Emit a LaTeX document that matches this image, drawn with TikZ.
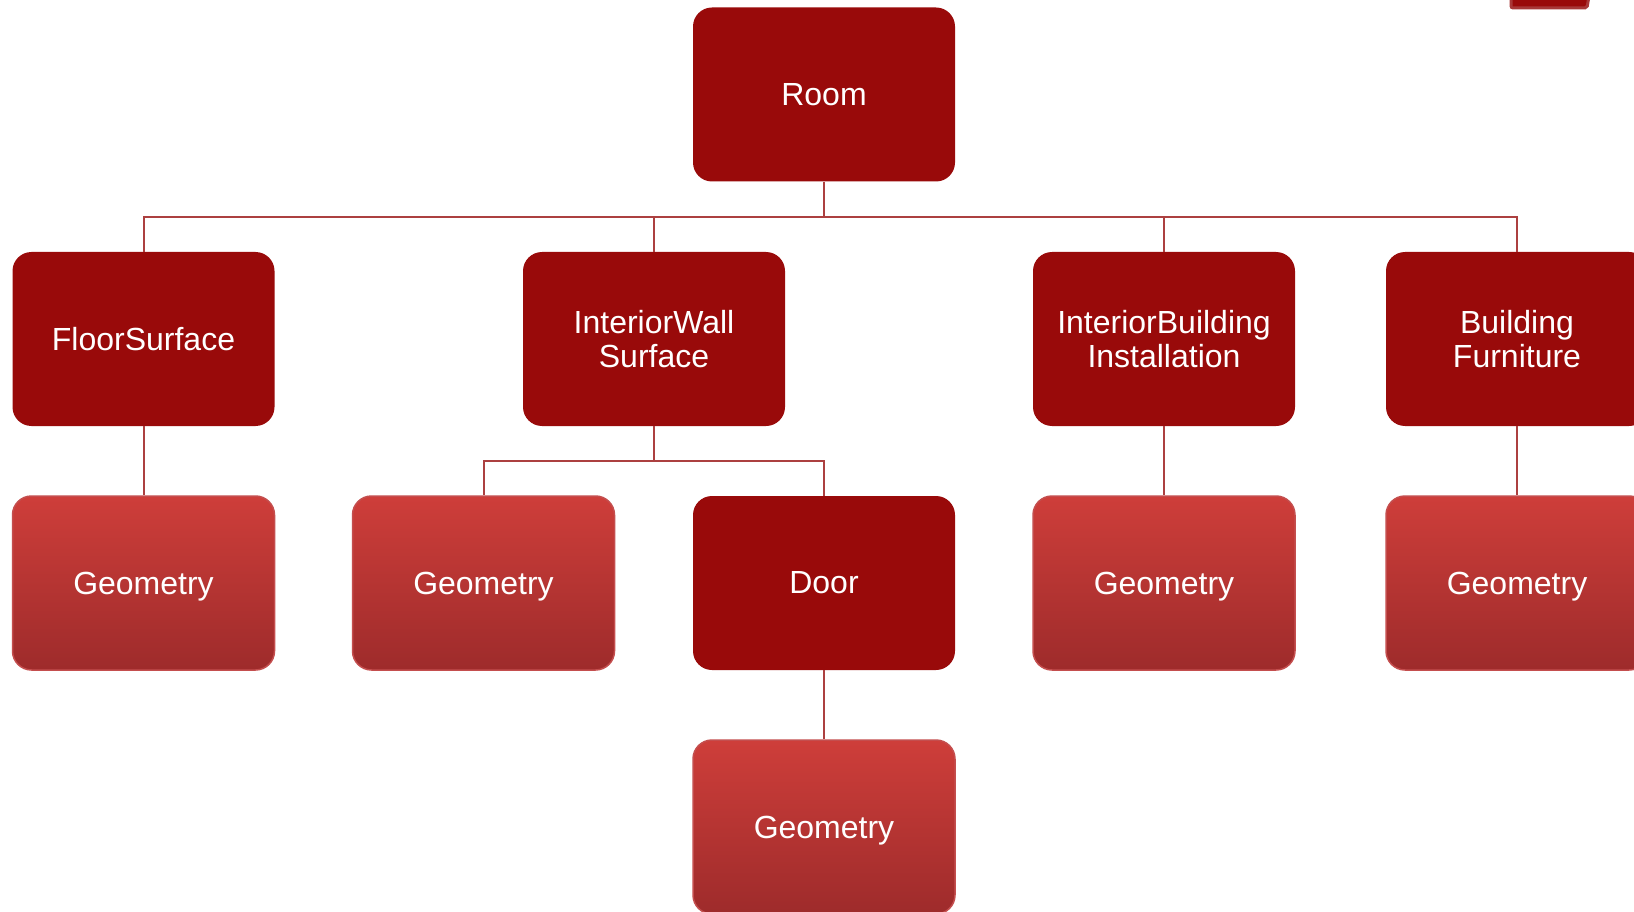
\documentclass[tikz,border=0pt]{standalone}
\usepackage{fontspec}
\setmainfont{Liberation Sans}
\definecolor{boxdark}{RGB}{153,10,10}
\definecolor{geotop}{RGB}{206,62,58}
\definecolor{geobot}{RGB}{158,43,43}
\definecolor{geoedge}{RGB}{196,78,78}
\definecolor{wire}{RGB}{172,64,64}
\definecolor{tabedge}{RGB}{168,56,56}
\tikzset{
  box/.style={rectangle, rounded corners=19pt, minimum width=262pt, minimum height=174pt,
    inner sep=0pt, text=white, align=center,
    font=\fontsize{32}{33.5}\selectfont},
  darkbox/.style={box, fill=boxdark},
  geobox/.style={box, top color=geotop, bottom color=geobot, draw=geoedge, line width=1.5pt,
    text height=23pt, text depth=0pt},
  link/.style={draw=wire, line width=2pt},
}
\begin{document}
\begin{tikzpicture}[x=1pt, y=-1pt]
\useasboundingbox (0,0) rectangle (1634,912);
\clip (0,0) rectangle (1634,912);
\fill[white] (0,0) rectangle (1634,912);

% small tab at the top right edge
\draw[fill=boxdark, draw=tabedge, line width=3pt, rounded corners=2pt]
  (1511,-10) -- (1511,8) -- (1587,8) -- (1590,-10) -- cycle;

% top level
\node[darkbox] (room) at (824,94.5) {Room};

% second level
\node[darkbox] (fs)  at (143.5,339) {FloorSurface};
\node[darkbox] (iw)  at (654,339)   {InteriorWall\\Surface};
\node[darkbox] (ibi) at (1164,339)  {InteriorBuilding\\Installation};
\node[darkbox] (bf)  at (1517,339)  {Building\\Furniture};

% third level
\node[geobox]  (g1)   at (143.5,583) {Geometry};
\node[geobox]  (g2)   at (483.5,583) {Geometry};
\node[darkbox] (door) at (824,583)   {Door};
\node[geobox]  (g3)   at (1164,583)  {Geometry};
\node[geobox]  (g4)   at (1517,583)  {Geometry};

% fourth level
\node[geobox]  (g5)   at (824,827)   {Geometry};

% connectors
\coordinate (bus) at (824,217);
\coordinate (wbus) at (654,461);
\draw[link] (room.south) -- (bus);
\draw[link] (bus) -| (fs.north);
\draw[link] (bus) -| (iw.north);
\draw[link] (bus) -| (ibi.north);
\draw[link] (bus) -| (bf.north);
\draw[link] (fs.south) -- (g1.north);
\draw[link] (iw.south) -- (wbus);
\draw[link] (wbus) -| (g2.north);
\draw[link] (wbus) -| (door.north);
\draw[link] (ibi.south) -- (g3.north);
\draw[link] (bf.south) -- (g4.north);
\draw[link] (door.south) -- (g5.north);
\end{tikzpicture}
\end{document}
